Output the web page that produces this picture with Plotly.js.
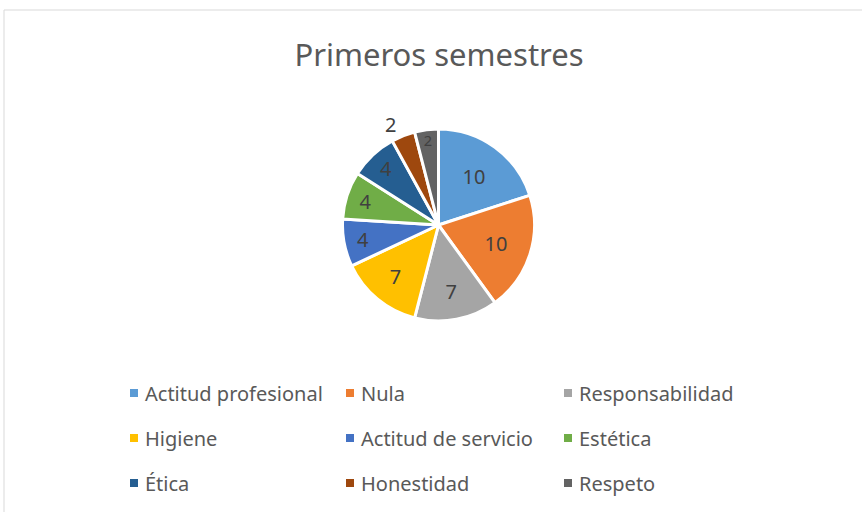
<!DOCTYPE html>
<html><head><meta charset="utf-8">
<script src="https://cdn.plot.ly/plotly-3.0.1.min.js"></script>
<style>html,body{margin:0;padding:0;background:#fff}</style>
</head><body><div id="chart" style="width:862px;height:512px"></div>
<script>
const categories = ["Actitud profesional","Nula","Responsabilidad","Higiene","Actitud de servicio","Estética","Ética","Honestidad","Respeto"];
const values = [10,10,7,7,4,4,4,2,2];
const colors = ["#5B9BD5","#ED7D31","#A5A5A5","#FFC000","#4472C4","#70AD47","#255E91","#9E480E","#636363"];
const textPositions = ["inside","inside","inside","inside","inside","inside","inside","outside","inside"];

const W = 862, H = 512;
const FONT = "Noto Sans, sans-serif";
const cx = 438.5, cy = 225, r = 96;

const trace = {
  type: "pie",
  labels: categories,
  values: values,
  sort: false,
  direction: "clockwise",
  rotation: 0,
  marker: {colors: colors, line: {color: "#ffffff", width: 3}},
  textinfo: "value",
  textposition: textPositions,
  insidetextorientation: "horizontal",
  textfont: {family: FONT, size: 20, color: "#404040"},
  outsidetextfont: {family: FONT, size: 20, color: "#404040"},
  insidetextfont: {family: FONT, size: 20, color: "#404040"},
  hoverinfo: "label+value",
  showlegend: false,
  domain: {x: [(cx - r) / W, (cx + r) / W], y: [1 - (cy + r) / H, 1 - (cy - r) / H]}
};

// legend built from categories/colors in a 3-column grid
const colX = [134, 350, 568];
const rowY = [393, 438, 483];
const shapes = [{
  type: "rect", xref: "paper", yref: "paper",
  x0: 4 / W, x1: 1.02, y0: -0.02, y1: 1 - 10 / H,
  line: {color: "#D9D9D9", width: 1}, fillcolor: "rgba(0,0,0,0)", layer: "below"
}];
const annotations = [];
categories.forEach((c, i) => {
  const col = i % 3, row = Math.floor(i / 3);
  const mx = colX[col], my = rowY[row];
  shapes.push({type: "rect", xref: "paper", yref: "paper",
    x0: (mx - 4) / W, x1: (mx + 4) / W, y0: 1 - (my + 4) / H, y1: 1 - (my - 4) / H,
    line: {width: 0}, fillcolor: colors[i]});
  annotations.push({xref: "paper", yref: "paper", x: (mx + 9) / W, y: 1 - my / H,
    xanchor: "left", yanchor: "middle", showarrow: false, text: c,
    font: {family: FONT, size: 20, color: "#595959"}});
});

const layout = {
  width: W, height: H,
  margin: {l: 0, r: 0, t: 0, b: 0},
  paper_bgcolor: "#ffffff",
  title: {text: "Primeros semestres", x: 439 / W, xanchor: "center", y: 1 - 55 / H, yanchor: "middle",
    font: {family: FONT, size: 31, color: "#595959"}},
  shapes: shapes,
  annotations: annotations,
  showlegend: false
};
Plotly.newPlot("chart", [trace], layout, {displayModeBar: false, staticPlot: true});
</script></body></html>
